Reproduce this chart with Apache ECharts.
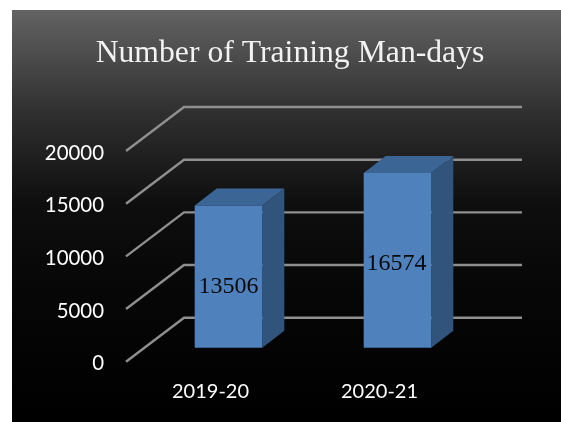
<!DOCTYPE html>
<html>
<head>
<meta charset="utf-8">
<style>html,body{margin:0;padding:0;background:#fff}#c{width:561px;height:422px}</style>
<script src="https://cdn.jsdelivr.net/npm/echarts@6/dist/echarts.min.js"></script>
</head>
<body>
<div id="c"></div>
<script>
const titleText = 'Number of Training Man-days';
const categories = ['2019-20', '2020-21'];
const manDays = [13506, 16574];
const yTicks = [0, 5000, 10000, 15000, 20000];

// 3D look: pixel offsets of the planes, relative to the front of the plot
const wallDepth = [58, -44];
const barFrontDepth = [18, -14];
const barBackDepth = [40, -31];
const barWidthShare = 0.4;
const labelNudge = [[0, 10], [-1, 3]];

const chart = echarts.init(document.getElementById('c'), null, {renderer: 'canvas'});
chart.setOption({
  animation: false,
  backgroundColor: '#fff',
  graphic: [{
    type: 'rect', z: -10, silent: true,
    shape: {x: 12, y: 10, width: 549, height: 412},
    style: {fill: new echarts.graphic.LinearGradient(0, 0, 0, 1, [
      {offset: 0, color: '#636363'},
      {offset: 0.24, color: '#313131'},
      {offset: 0.47, color: '#0e0e0e'},
      {offset: 0.7, color: '#060606'},
      {offset: 1, color: '#000000'}
    ])}
  }],
  title: {
    text: titleText, left: 285, top: 33, textAlign: 'center',
    textStyle: {fontFamily: '"Liberation Serif"', fontSize: 31.7, fontWeight: 'normal', color: '#f2f2f2'}
  },
  grid: {left: 126, top: 151, width: 338, height: 210.7, containLabel: false},
  xAxis: {
    type: 'category', data: categories,
    axisLine: {show: false}, axisTick: {show: false}, splitLine: {show: false},
    axisLabel: {color: '#fff', fontFamily: 'Lato', fontSize: 20, margin: 20}
  },
  yAxis: {
    type: 'value', min: 0, max: 20000, interval: 5000,
    axisLine: {show: false}, axisTick: {show: false}, splitLine: {show: false},
    axisLabel: {
      color: '#fff', fontFamily: 'Lato', fontSize: 20.4, margin: 22,
      formatter: v => '{n|' + v + '}',
      rich: {n: {color: '#fff', fontFamily: 'Lato', fontSize: 20.4, padding: [4, 0, 0, 0]}}
    }
  },
  series: [{
    type: 'custom', coordinateSystem: 'cartesian2d', clip: false, z: 2, silent: true,
    data: yTicks.map(v => [0, v]),
    renderItem(params, api) {
      const y = api.coord([0, api.value(1)])[1];
      const cs = params.coordSys;
      return {
        type: 'polyline',
        shape: {points: [
          [cs.x, y],
          [cs.x + wallDepth[0], y + wallDepth[1]],
          [cs.x + cs.width + wallDepth[0], y + wallDepth[1]]
        ]},
        style: {fill: null, stroke: '#8f8f8f', lineWidth: 2.4}
      };
    }
  }, {
    type: 'custom', coordinateSystem: 'cartesian2d', clip: false, z: 3, silent: true,
    data: manDays.map((v, i) => [i, v]),
    renderItem(params, api) {
      const i = api.value(0), v = api.value(1);
      const top = api.coord([i, v]), base = api.coord([i, 0]);
      const w = api.size([1, 0])[0] * barWidthShare;
      const l = top[0] - w / 2 + barFrontDepth[0], r = l + w;
      const t = top[1] + barFrontDepth[1], b = base[1] + barFrontDepth[1];
      const dx = barBackDepth[0] - barFrontDepth[0], dy = barBackDepth[1] - barFrontDepth[1];
      const nudge = labelNudge[params.dataIndex];
      return {
        type: 'group',
        children: [
          {type: 'polygon', shape: {points: [[r, t], [r + dx, t + dy], [r + dx, b + dy], [r, b]]},
           style: {fill: '#31547d'}},
          {type: 'polygon', shape: {points: [[l, t], [l + dx, t + dy], [r + dx, t + dy], [r, t]]},
           style: {fill: '#3b6595'}},
          {type: 'rect', shape: {x: l, y: t, width: w, height: b - t},
           style: {fill: '#4f81bd'}},
          {type: 'text', z2: 5,
           style: {x: (l + r) / 2 + nudge[0], y: (t + b) / 2 + nudge[1], text: String(v),
                   align: 'center', verticalAlign: 'middle',
                   fontFamily: '"Liberation Serif"', fontSize: 24, fill: '#0a0a0a'}}
        ]
      };
    }
  }]
});
</script>
</body>
</html>
